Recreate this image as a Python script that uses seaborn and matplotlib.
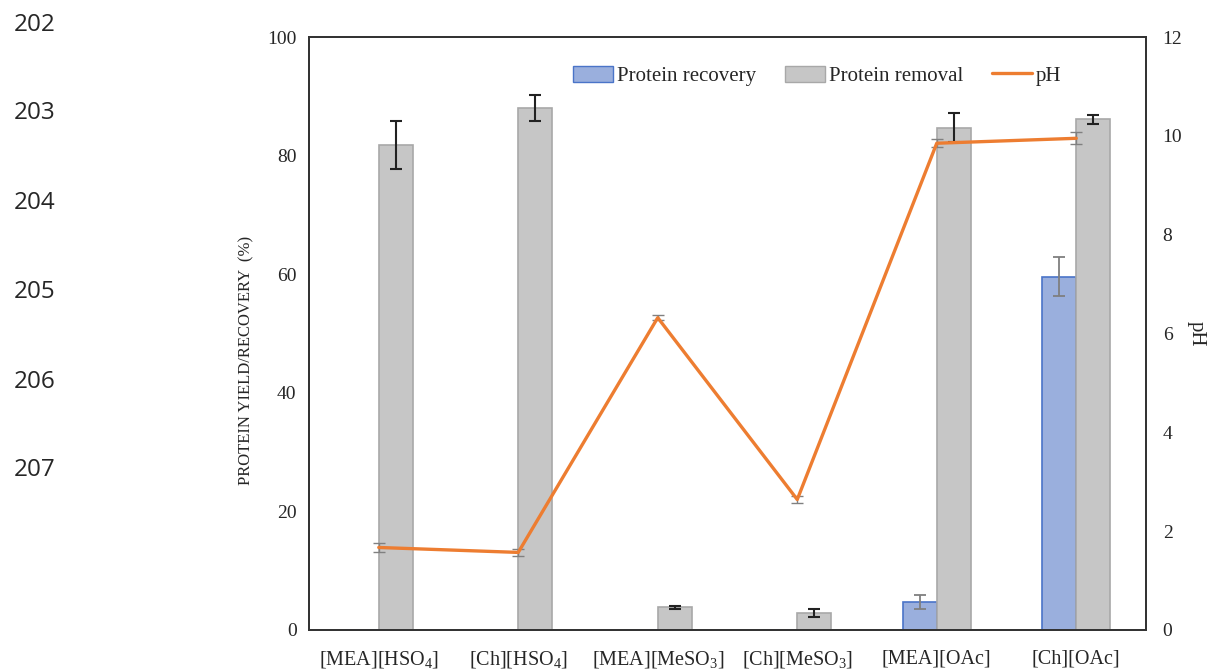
import matplotlib
matplotlib.use("Agg")
import matplotlib.pyplot as plt
import seaborn as sns
import pandas as pd
import numpy as np
from matplotlib.patches import Patch
from matplotlib.lines import Line2D

categories = [r"[MEA][HSO$_4$]", r"[Ch][HSO$_4$]", r"[MEA][MeSO$_3$]",
              r"[Ch][MeSO$_3$]", r"[MEA][OAc]", r"[Ch][OAc]"]
recovery = [0, 0, 0, 0, 4.7, 59.6]
recovery_err = [0, 0, 0, 0, 1.2, 3.3]
removal = [81.8, 88.1, 3.8, 2.9, 84.7, 86.1]
removal_err = [4.1, 2.2, 0.3, 0.7, 2.4, 0.75]
ph = [1.67, 1.57, 6.32, 2.64, 9.85, 9.95]
ph_err = [0.1, 0.07, 0.05, 0.07, 0.08, 0.12]
line_numbers = ["202", "203", "204", "205", "206", "207"]

sns.set_style("white")
plt.rcParams["font.family"] = ["Liberation Serif", "DejaVu Serif"]
plt.rcParams["mathtext.fontset"] = "custom"
plt.rcParams["mathtext.rm"] = "Liberation Serif"
plt.rcParams["mathtext.it"] = "Liberation Serif:italic"

df = pd.DataFrame({
    "cat": categories * 2,
    "value": recovery + removal,
    "series": ["Protein recovery"] * 6 + ["Protein removal"] * 6,
})

fig = plt.figure(figsize=(12.1, 6.71), dpi=100)
ax = fig.add_axes([309 / 1210, 1 - 630 / 671, (1146 - 309) / 1210, (630 - 37) / 671])

blue = "#9aafdd"
gray = "#c6c6c6"
bw = 0.486
sns.barplot(data=df, x="cat", y="value", hue="series", order=categories,
            palette=[blue, gray], width=bw, ax=ax, legend=False,
            linewidth=1.2, saturation=1)
for p in ax.patches:
    fc = p.get_facecolor()
    if abs(fc[2] - fc[0]) > 0.1:
        p.set_edgecolor("#4a74c8")
    else:
        p.set_edgecolor("#a8a8a8")

xs = np.arange(len(categories))
for i in range(len(categories)):
    if recovery_err[i] > 0:
        ax.errorbar(xs[i] - bw / 4, recovery[i], yerr=recovery_err[i], fmt="none",
                    ecolor="#7f7f7f", elinewidth=1.3, capsize=4, capthick=1.3)
    ax.errorbar(xs[i] + bw / 4, removal[i], yerr=removal_err[i], fmt="none",
                ecolor="#222222", elinewidth=1.5, capsize=4, capthick=1.5)

ax.set_ylim(0, 100)
ax.set_xlim(-0.5, 5.5)
ax.set_yticks(range(0, 101, 20))
ax.set_xlabel("")
ax.set_ylabel("PROTEIN YIELD/RECOVERY  (%)", fontsize=12)
ax.yaxis.set_label_coords(-(309 - 254) / 837, (630 - 360) / 593)
ax.tick_params(axis="y", labelsize=14, length=0, pad=9)
ax.tick_params(axis="x", labelsize=14.5, length=0, pad=14)
for s in ax.spines.values():
    s.set_color("#333333")
    s.set_linewidth(1.3)

ax2 = ax.twinx()
ax2.errorbar(xs, ph, yerr=ph_err, fmt="none", ecolor="#808080",
             elinewidth=1.0, capsize=4, capthick=1.0, zorder=2)
sns.lineplot(x=xs, y=ph, ax=ax2, color="#ed7d31", linewidth=2.4, zorder=3)
ax2.set_ylim(0, 12)
ax2.set_yticks(range(0, 13, 2))
ax2.set_ylabel("pH", fontsize=15, rotation=270, labelpad=17)
ax2.tick_params(axis="y", labelsize=14, length=0, pad=12)
for s in ax2.spines.values():
    s.set_color("#333333")
    s.set_linewidth(1.3)

handles = [Patch(facecolor=blue, edgecolor="#4a74c8"),
           Patch(facecolor=gray, edgecolor="#a8a8a8"),
           Line2D([0], [0], color="#ed7d31", linewidth=2.4)]
ax2.legend(handles, ["Protein recovery", "Protein removal", "pH"], ncol=3,
           loc="center left", bbox_to_anchor=((573 - 309) / 837, (630 - 76) / 593),
           frameon=False, fontsize=15, handlelength=1.9, handleheight=0.8,
           handletextpad=0.2, columnspacing=1.4, borderpad=0, borderaxespad=0)

ys = [25, 113, 203, 292, 382, 470]
for t, y in zip(line_numbers, ys):
    fig.text(14 / 1210, 1 - y / 671, t, fontsize=17.5, family=["Open Sans", "DejaVu Sans"],
             va="center", ha="left")

fig.savefig("out.png", dpi=100)
